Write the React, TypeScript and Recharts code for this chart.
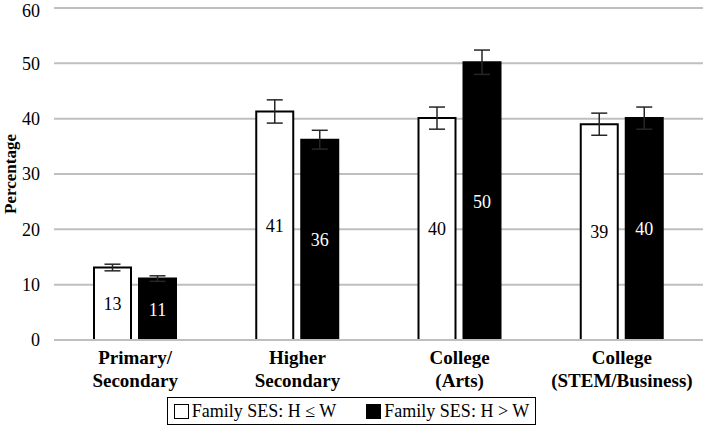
import React from 'react';
import { BarChart, Bar, XAxis, YAxis, CartesianGrid, ErrorBar, LabelList, Legend } from 'recharts';

const categoryLines = [
  ['Primary/', 'Secondary'],
  ['Higher', 'Secondary'],
  ['College', '(Arts)'],
  ['College', '(STEM/Business)'],
];
const lowSES = [13.1, 41.3, 40.1, 39.0];
const highSES = [11.1, 36.2, 50.2, 40.1];
const lowErr = [0.6, 2.1, 2.0, 2.0];
const highErr = [0.5, 1.7, 2.2, 2.0];
const yTicks = [0, 10, 20, 30, 40, 50, 60];
const seriesNames = ['Family SES: H \u2264 W', 'Family SES: H > W'];

const FONT = "'Liberation Serif', 'Times New Roman', Tinos, 'Noto Serif', 'DejaVu Serif', Georgia, serif";

const data = categoryLines.map((lines, i) => ({
  name: lines.join(' '),
  idx: i,
  low: lowSES[i],
  high: highSES[i],
  lowErr: lowErr[i],
  highErr: highErr[i],
}));

const CategoryTick = (props: any) => {
  const { x, y, payload } = props;
  const lines = categoryLines[payload.index] || [];
  return (
    <g transform={`translate(${x},${y})`}>
      {lines.map((l, i) => (
        <text key={i} x={0} y={16 + i * 23} textAnchor="middle" style={{ fontFamily: FONT }} fontSize={19} fontWeight="bold" fill="#000">
          {l}
        </text>
      ))}
    </g>
  );
};

const LegendBox = () => (
  <div style={{ display: 'flex', justifyContent: 'center', paddingTop: 5 }}>
    <div
      style={{
        display: 'flex',
        alignItems: 'center',
        border: '1.5px solid #000',
        height: 26,
        padding: '0 6px',
        fontFamily: FONT,
        fontSize: 18,
        color: '#000',
        gap: 30,
      }}
    >
      {seriesNames.map((n, i) => (
        <span key={n} style={{ display: 'flex', alignItems: 'center' }}>
          <span
            style={{
              display: 'inline-block',
              width: 13,
              height: 13,
              border: '1.5px solid #000',
              background: i === 0 ? '#fff' : '#000',
              marginRight: 3,
            }}
          />
          {n}
        </span>
      ))}
    </div>
  </div>
);

export default function App() {
  return (
    <div style={{ position: 'absolute', left: 0, top: 0, background: '#fff', fontFamily: FONT }}>
      <BarChart
        width={703}
        height={448}
        data={data}
        margin={{ top: 8, right: 0, left: 0, bottom: 8 }}
        barSize={37}
        barGap={8}
        style={{ fontFamily: FONT }}
      >
        <CartesianGrid vertical={false} stroke="#bfbfbf" strokeWidth={2} />
        <XAxis
          dataKey="name"
          axisLine={{ stroke: '#bfbfbf', strokeWidth: 2 }}
          tickLine={false}
          tick={<CategoryTick />}
          height={52}
          interval={0}
        />
        <YAxis
          domain={[0, 60]}
          ticks={yTicks}
          axisLine={false}
          tickLine={false}
          width={54}
          tickMargin={8}
          tick={{ fontSize: 18, fill: '#000', style: { fontFamily: FONT } }}
          label={{
            value: 'Percentage',
            angle: -90,
            position: 'insideLeft',
            offset: 10,
            style: { textAnchor: 'middle', fontFamily: FONT, fontSize: 17, fontWeight: 'bold', fill: '#000' },
          }}
        />
        <Legend verticalAlign="bottom" height={48} content={<LegendBox />} />
        <Bar dataKey="low" name={seriesNames[0]} fill="#fff" stroke="#000" strokeWidth={2} isAnimationActive={false}>
          <ErrorBar dataKey="lowErr" width={8} stroke="#262626" strokeWidth={1.5} isAnimationActive={false} />
          <LabelList
            dataKey="low"
            position="center"
            formatter={(v: any) => Math.round(v)}
            style={{ fontFamily: FONT, fontSize: 18, fill: '#000', stroke: 'none' }}
          />
        </Bar>
        <Bar dataKey="high" name={seriesNames[1]} fill="#000" stroke="#000" strokeWidth={2} isAnimationActive={false}>
          <ErrorBar dataKey="highErr" width={8} stroke="#262626" strokeWidth={1.5} isAnimationActive={false} />
          <LabelList
            dataKey="high"
            position="center"
            formatter={(v: any) => Math.round(v)}
            style={{ fontFamily: FONT, fontSize: 18, fill: '#fff', stroke: 'none' }}
          />
        </Bar>
      </BarChart>
    </div>
  );
}
